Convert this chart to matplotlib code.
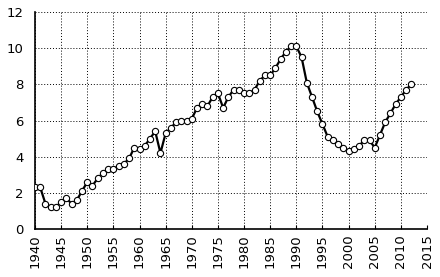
import matplotlib
matplotlib.use("Agg")
import matplotlib.pyplot as plt

years = list(range(1940, 2013))
values = [2.3, 2.3, 1.4, 1.2, 1.2, 1.5, 1.7, 1.4, 1.6, 2.1,
          2.6, 2.4, 2.8, 3.1, 3.3, 3.3, 3.5, 3.6, 3.9, 4.5,
          4.4, 4.6, 5.0, 5.4, 4.2, 5.3, 5.6, 5.9, 6.0, 6.0,
          6.1, 6.7, 6.9, 6.8, 7.3, 7.5, 6.7, 7.3, 7.7, 7.7,
          7.5, 7.5, 7.7, 8.2, 8.5, 8.5, 8.9, 9.4, 9.8, 10.1,
          10.1, 9.5, 8.1, 7.3, 6.5, 5.8, 5.1, 4.9, 4.7, 4.5,
          4.3, 4.4, 4.6, 4.9, 4.9, 4.5, 5.2, 5.9, 6.4, 6.9,
          7.3, 7.7, 8.0]
xticks = list(range(1940, 2016, 5))
yticks = list(range(0, 13, 2))

fig = plt.figure(figsize=(4.4, 2.77), dpi=100)
ax = fig.add_axes([35/440, 1-229/277, (427-35)/440, (229-12)/277])
ax.plot(years, values, color='black', lw=1.6, marker='o', ms=4.5,
        mfc='white', mec='black', mew=0.8, zorder=3)
ax.set_xlim(1940, 2015)
ax.set_ylim(0, 12)
ax.set_xticks(xticks)
ax.set_yticks(yticks)
ax.set_xticklabels([str(t) for t in xticks], rotation=90, fontsize=9.5)
ax.tick_params(axis='y', labelsize=9.5, length=0, pad=8)
ax.tick_params(axis='x', length=3, direction='in', pad=4)
ax.grid(True, color='black', linestyle=(0, (1, 2)), linewidth=0.7)
ax.set_axisbelow(True)
for s in ['top', 'right']:
    ax.spines[s].set_visible(False)
ax.spines['left'].set_linewidth(1.2)
ax.spines['bottom'].set_linewidth(1.2)
fig.savefig('out.png', dpi=100)
